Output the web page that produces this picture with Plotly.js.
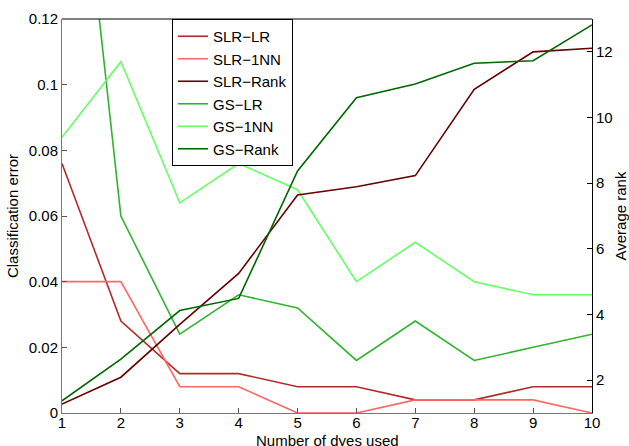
<!DOCTYPE html>
<html>
<head>
<meta charset="utf-8">
<script src="https://cdn.plot.ly/plotly-3.0.1.min.js"></script>
<style>html,body{margin:0;padding:0;background:#fff;}#chart{width:629px;height:446px;}</style>
</head>
<body>
<div id="chart"></div>
<script>
const dyes = [1, 2, 3, 4, 5, 6, 7, 8, 9, 10];
const slrLR = [0.076, 0.028, 0.012, 0.012, 0.008, 0.008, 0.004, 0.004, 0.008, 0.008];
const slr1NN = [0.040, 0.040, 0.008, 0.008, 0.000, 0.000, 0.004, 0.004, 0.004, 0.000];
const slrRank = [1.27, 2.09, 3.70, 5.25, 7.64, 7.89, 8.23, 10.86, 12.0, 12.11];
const gsLR = [0.224, 0.060, 0.024, 0.036, 0.032, 0.016, 0.028, 0.016, 0.020, 0.024];
const gs1NN = [0.084, 0.107, 0.064, 0.076, 0.068, 0.040, 0.052, 0.040, 0.036, 0.036];
const gsRank = [1.37, 2.64, 4.12, 4.49, 8.37, 10.60, 11.02, 11.65, 11.73, 12.82];
const names = ['SLR\u2212LR', 'SLR\u22121NN', 'SLR\u2212Rank', 'GS\u2212LR', 'GS\u22121NN', 'GS\u2212Rank'];
const xTitle = 'Number of dyes used';
const xTicks = [1, 2, 3, 4, 5, 6, 7, 8, 9, 10];
const yTicks = [0, 0.02, 0.04, 0.06, 0.08, 0.1, 0.12];
const y2Ticks = [2, 4, 6, 8, 10, 12];

const colors = ['#b22a2a', '#ff6666', '#660000', '#2db52d', '#66ff66', '#006600'];
const series = [slrLR, slr1NN, slrRank, gsLR, gs1NN, gsRank];
const axes = ['y', 'y', 'y2', 'y', 'y', 'y2'];

const traces = series.map((s, i) => ({
  x: dyes, y: s, name: names[i], type: 'scatter', mode: 'lines',
  yaxis: axes[i], legendgroup: 'g' + i,
  line: {color: colors[i], width: 1.6}
}));

const font = {family: '"Liberation Sans", Arial, Helvetica, sans-serif', size: 15, color: '#000'};

const layout = {
  width: 629, height: 446,
  margin: {l: 62, r: 37, t: 19, b: 33},
  paper_bgcolor: '#fff', plot_bgcolor: '#fff',
  font: font,
  showlegend: true,
  legend: {
    x: 0.2075, y: 1, xanchor: 'left', yanchor: 'top',
    bordercolor: '#000', borderwidth: 1, bgcolor: '#fff',
    font: {family: font.family, size: 15, color: '#000'},
    traceorder: 'grouped', tracegroupgap: 0
  },
  xaxis: {
    range: [1, 10], tickvals: xTicks, ticks: 'inside', ticklen: 5, tickcolor: '#555',
    ticklabelstandoff: -4,
    showgrid: false, zeroline: false, showline: true, linecolor: '#777', linewidth: 1,
    tickfont: {size: 15}
  },
  yaxis: {
    range: [0, 0.12], tickvals: yTicks, ticks: 'inside', ticklen: 5, tickcolor: '#555',
    showgrid: false, zeroline: false, showline: true, linecolor: '#777', linewidth: 1,
    title: {text: 'Classification error', font: {size: 15}, standoff: 6},
    tickfont: {size: 15}
  },
  yaxis2: {
    overlaying: 'y', side: 'right', range: [1, 13], tickvals: y2Ticks,
    ticks: 'inside', ticklen: 5, tickcolor: '#000',
    showgrid: false, zeroline: false, showline: true, linecolor: '#000', linewidth: 1,
    title: {text: 'Average rank', font: {size: 15}, standoff: 6},
    tickfont: {size: 15}
  },
  annotations: [{
    text: xTitle, xref: 'paper', yref: 'paper', x: 0.5, y: 0, yshift: -17,
    xanchor: 'center', yanchor: 'top', showarrow: false,
    font: {family: font.family, size: 15, color: '#000'}
  }],
  shapes: [{type: 'line', xref: 'paper', yref: 'paper', x0: 0, x1: 1, y0: 1, y1: 1,
            line: {color: '#000', width: 1}}]
};

Plotly.newPlot('chart', traces, layout, {displayModeBar: false, staticPlot: true});
</script>
</body>
</html>
